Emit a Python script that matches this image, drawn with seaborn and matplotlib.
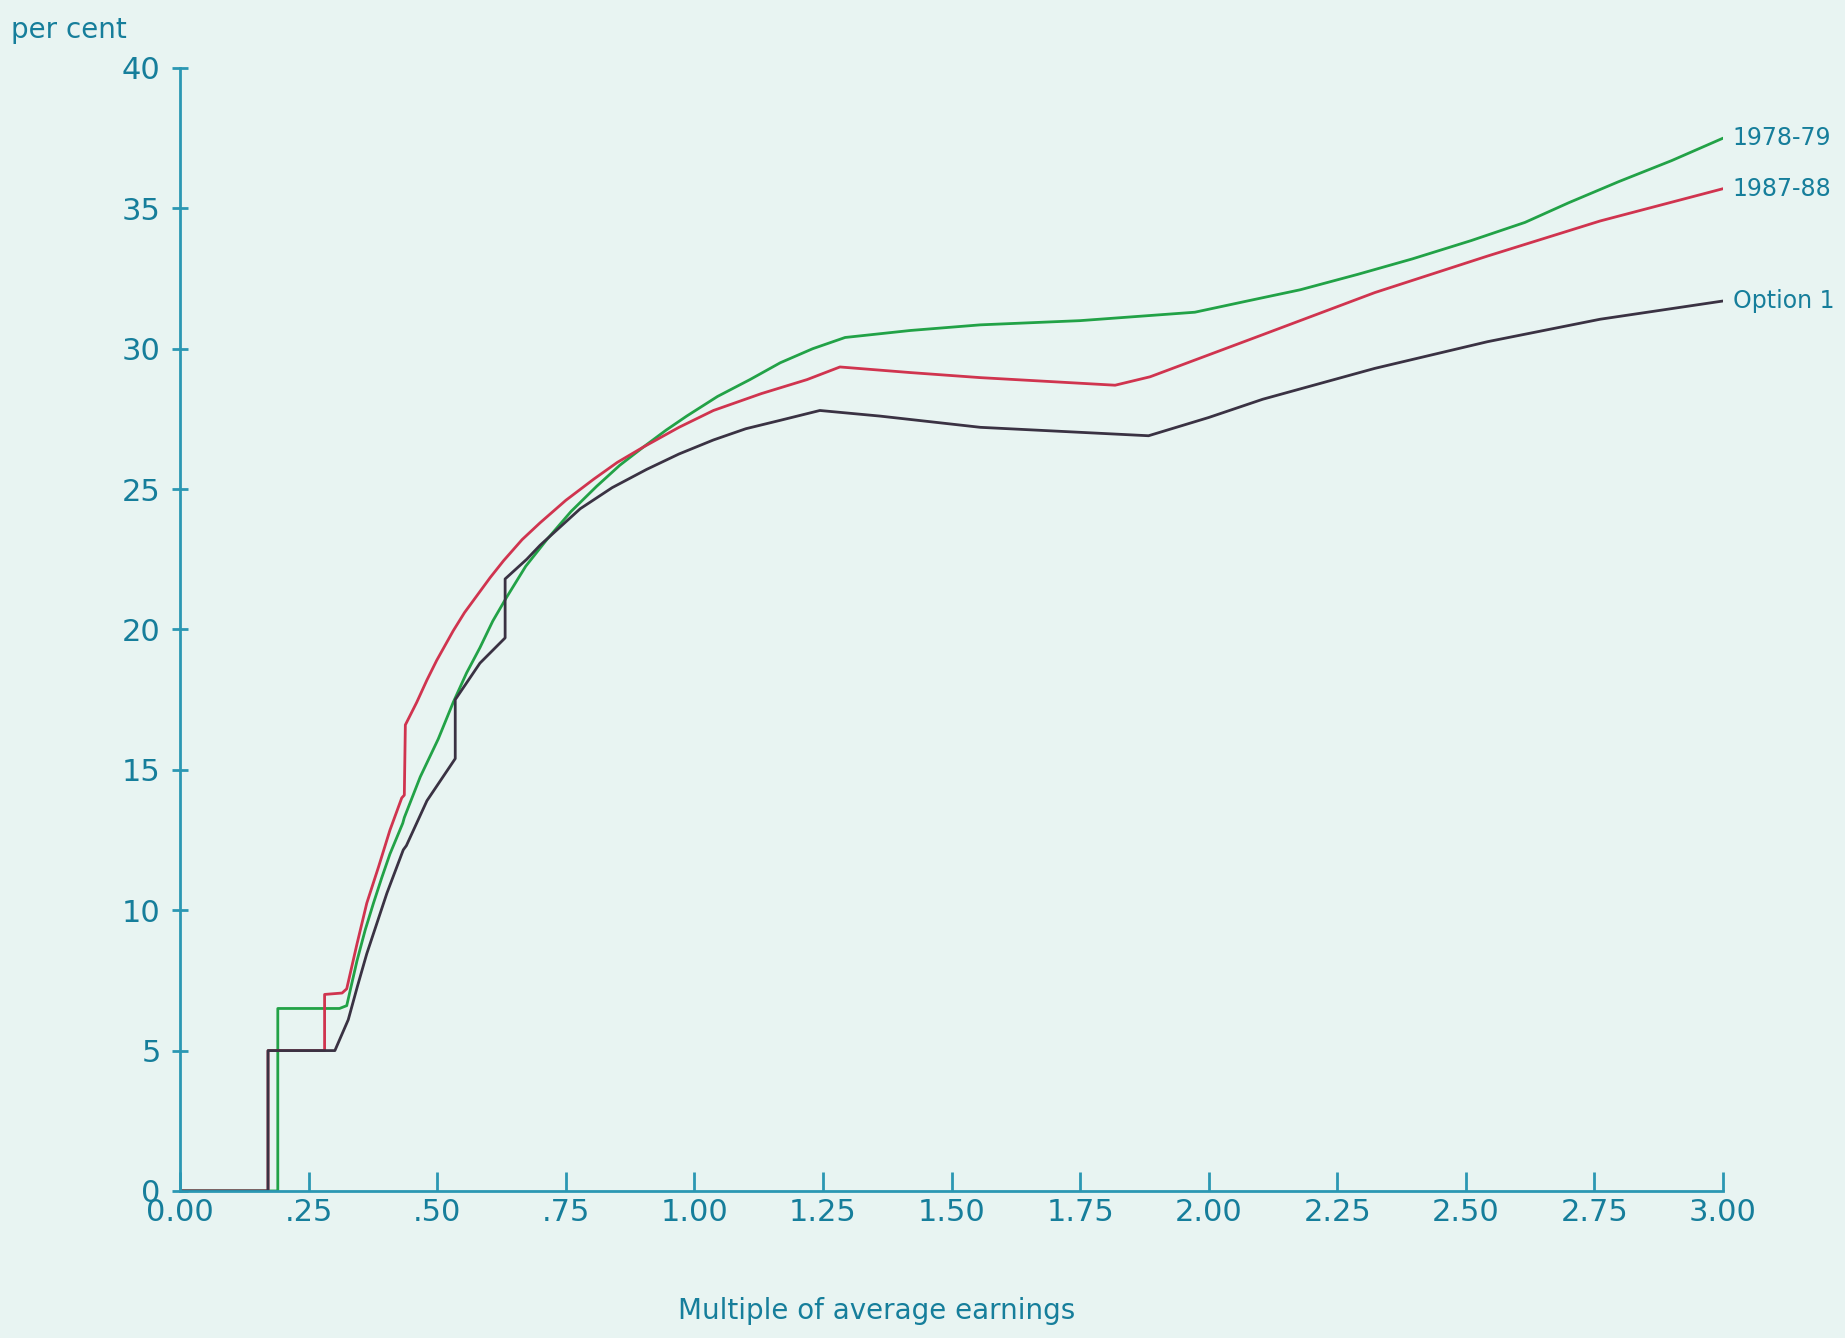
import numpy as np
import pandas as pd
import matplotlib
matplotlib.use("Agg")
import matplotlib.pyplot as plt
import seaborn as sns

# valeurs (taux en %, multiple du salaire moyen)
x_7879 = [0.0, 0.190, 0.190, 0.310, 0.324, 0.344, 0.360, 0.376, 0.392, 0.408, 0.433, 0.436,
          0.467, 0.502, 0.531, 0.557, 0.583, 0.608, 0.635, 0.672, 0.713, 0.760, 0.810,
          0.855, 0.901, 0.945, 0.985, 1.045, 1.108, 1.167, 1.230, 1.293, 1.420, 1.556,
          1.750, 1.973, 2.075, 2.178, 2.290, 2.396, 2.510, 2.615, 2.700, 2.797, 2.900, 3.000]
y_7879 = [0.0, 0.0, 6.5, 6.5, 6.6, 8.2, 9.3, 10.25, 11.15, 12.0, 13.1, 13.3,
          14.75, 16.1, 17.4, 18.45, 19.35, 20.3, 21.15, 22.25, 23.2, 24.2, 25.1,
          25.85, 26.5, 27.1, 27.6, 28.3, 28.9, 29.5, 30.0, 30.4, 30.65, 30.85,
          31.0, 31.3, 31.7, 32.1, 32.65, 33.2, 33.85, 34.5, 35.2, 35.95, 36.7, 37.5]

x_8788 = [0.0, 0.171, 0.171, 0.281, 0.281, 0.315, 0.324, 0.344, 0.363, 0.386, 0.408, 0.431,
          0.436, 0.438, 0.460, 0.480, 0.499, 0.531, 0.553, 0.577, 0.603, 0.629, 0.665,
          0.700, 0.750, 0.804, 0.850, 0.901, 0.970, 1.037, 1.130, 1.219, 1.283, 1.420,
          1.556, 1.818, 1.886, 2.105, 2.323, 2.542, 2.761, 3.000]
y_8788 = [0.0, 0.0, 5.0, 5.0, 7.0, 7.05, 7.2, 8.8, 10.25, 11.55, 12.85, 14.0,
          14.1, 16.6, 17.4, 18.2, 18.9, 19.95, 20.6, 21.2, 21.85, 22.45, 23.2,
          23.8, 24.6, 25.35, 25.95, 26.5, 27.2, 27.8, 28.4, 28.9, 29.35, 29.15,
          28.97, 28.7, 29.0, 30.5, 32.0, 33.3, 34.55, 35.7]

x_opt1 = [0.0, 0.171, 0.171, 0.301, 0.327, 0.345, 0.363, 0.402, 0.434, 0.440, 0.480, 0.535,
          0.535, 0.583, 0.632, 0.632, 0.674, 0.700, 0.778, 0.840, 0.907, 0.970, 1.037,
          1.100, 1.167, 1.244, 1.361, 1.556, 1.883, 2.000, 2.105, 2.323, 2.542, 2.761, 3.000]
y_opt1 = [0.0, 0.0, 5.0, 5.0, 6.1, 7.3, 8.45, 10.6, 12.15, 12.3, 13.9, 15.4,
          17.5, 18.8, 19.7, 21.8, 22.5, 23.0, 24.3, 25.05, 25.7, 26.25, 26.75,
          27.15, 27.45, 27.8, 27.6, 27.2, 26.9, 27.55, 28.2, 29.3, 30.25, 31.05, 31.7]

series = [("1978-79", x_7879, y_7879, "#22a247"),
          ("1987-88", x_8788, y_8788, "#d0344f"),
          ("Option 1", x_opt1, y_opt1, "#3a3243")]

x_ticks = [0, 0.25, 0.5, 0.75, 1.0, 1.25, 1.5, 1.75, 2.0, 2.25, 2.5, 2.75, 3.0]
x_tick_labels = ["0.00", ".25", ".50", ".75", "1.00", "1.25", "1.50", "1.75",
                 "2.00", "2.25", "2.50", "2.75", "3.00"]
y_ticks = [0, 5, 10, 15, 20, 25, 30, 35, 40]

paper = "#e8f4f2"
teal = "#2b97b3"
ink = "#167e9b"

sns.set_style("white")
plt.rcParams["font.family"] = ["DejaVu Sans"]

fig = plt.figure(figsize=(18.45, 13.38), dpi=100, facecolor=paper)
ax = fig.add_axes([0.0976, 0.1099, 0.8363, 0.8393], facecolor=paper)

for name, xs, ys, col in series:
    df = pd.DataFrame({"x": xs, "y": ys})
    sns.lineplot(data=df, x="x", y="y", ax=ax, color=col, linewidth=2.0,
                 estimator=None, sort=False)
    ax.annotate(name, xy=(xs[-1], ys[-1]), xytext=(7, 0), textcoords="offset points",
                va="center", ha="left", fontsize=17, color=ink, annotation_clip=False)

ax.set_xlim(0, 3)
ax.set_ylim(0, 40)
ax.set_xticks(x_ticks)
ax.set_xticklabels(x_tick_labels)
ax.set_yticks(y_ticks)
ax.set_xlabel("")
ax.set_ylabel("")

for s in ["top", "right"]:
    ax.spines[s].set_visible(False)
for s in ["left", "bottom"]:
    ax.spines[s].set_color(teal)
    ax.spines[s].set_linewidth(2)

ax.tick_params(axis="x", direction="in", length=14, width=2, color=teal,
               labelsize=22, labelcolor=ink, pad=5, bottom=True)
ax.tick_params(axis="y", direction="inout", length=12, width=2, color=teal,
               labelsize=22, labelcolor=ink, pad=8, left=True)

fig.text(0.006, 0.988, "per cent", fontsize=20, color=ink, ha="left", va="top")
fig.text(0.475, 0.010, "Multiple of average earnings", fontsize=20, color=ink,
         ha="center", va="bottom")

fig.savefig("out.png", dpi=100, facecolor=paper)
